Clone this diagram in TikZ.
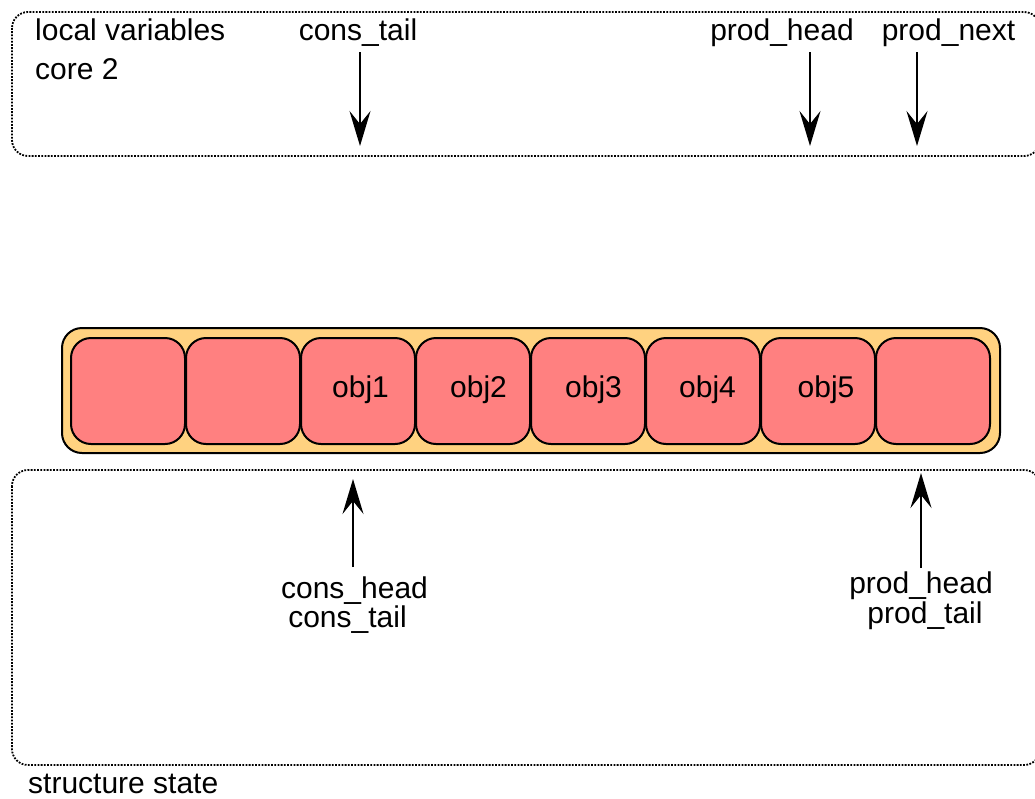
\documentclass[tikz,border=0pt]{standalone}
\usepackage{fontspec}
\setmainfont{Liberation Sans}
\usetikzlibrary{arrows.meta}
\definecolor{cellred}{HTML}{FF8080}
\definecolor{barorange}{HTML}{FFD280}
\begin{document}
\begin{tikzpicture}[x=1pt,y=-1pt,
  lbl/.style={anchor=base,inner sep=0pt,font=\fontsize{30}{35}\selectfont},
  lbll/.style={lbl,anchor=base west},
  dotbox/.style={draw=black,line width=1.8pt,dash pattern=on 1.8pt off 1.4pt,rounded corners=16pt},
  cell/.style={draw=black,line width=2pt,fill=cellred,rounded corners=20pt},
  bar/.style={draw=black,line width=2pt,fill=barorange,rounded corners=20pt},
  ptr/.style={line width=2pt,-{Stealth[length=35pt,width=21pt,inset=13pt]}}]
\useasboundingbox (0,0) rectangle (1035,798);
% boxes
\draw[dotbox] (12,12) rectangle (1040,156);
\draw[dotbox] (12,470) rectangle (1040,765);
% queue
\draw[bar] (62,328) rectangle (1000,453);
\foreach \i/\x in {1/71,2/186,3/301,4/416,5/531,6/646,7/761,8/876}{
  \draw[cell] (\x,338) rectangle ++(114,106);
  \coordinate (c\i) at (\x+57,338);
}
\node[lbl] (o1) at (360.5,397) {obj1};
\node[lbl] (o2) at (478.5,397) {obj2};
\node[lbl] (o3) at (593.5,397) {obj3};
\node[lbl] (o4) at (707.5,397) {obj4};
\node[lbl] (o5) at (826,397) {obj5};
% top labels
\node[lbll] (lv) at (35,40) {local variables};
\node[lbll] (c2) at (35,79) {core 2};
\node[lbl] (ct) at (358,40) {cons\_tail};
\node[lbl] (ph) at (782,40) {prod\_head};
\node[lbl] (pn) at (948.5,40) {prod\_next};
\coordinate (a1s) at (360,52); \coordinate (a1e) at (360,146);
\coordinate (a2s) at (810,52); \coordinate (a2e) at (810,146);
\coordinate (a3s) at (917,52); \coordinate (a3e) at (917,146);
\draw[ptr] (a1s) -- (a1e);
\draw[ptr] (a2s) -- (a2e);
\draw[ptr] (a3s) -- (a3e);
% bottom labels
\node[lbl] (chd) at (354.5,598) {cons\_head};
\node[lbl] (ctl) at (347.5,627) {cons\_tail};
\node[lbl] (phd) at (921,593) {prod\_head};
\node[lbl] (ptl) at (925,623) {prod\_tail};
\coordinate (b1s) at (353,567); \coordinate (b1e) at (353,479);
\coordinate (b2s) at (921,568); \coordinate (b2e) at (921,473);
\draw[ptr] (b1s) -- (b1e);
\draw[ptr] (b2s) -- (b2e);
\node[lbll] (ss) at (28,793) {structure state};
\end{tikzpicture}
\end{document}
